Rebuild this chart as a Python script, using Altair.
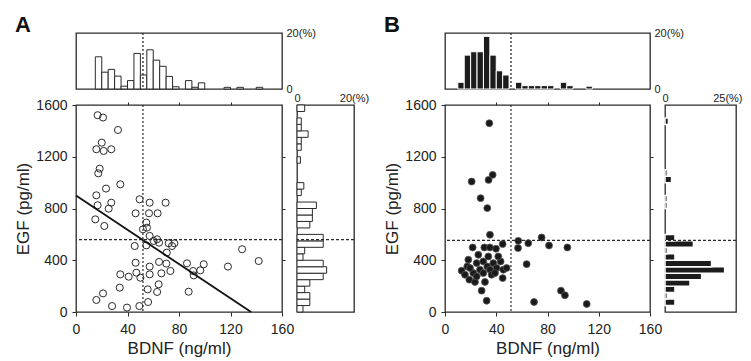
import altair as alt
import pandas as pd

FONT = "Liberation Sans"
INK = "#2a2a2a"

# ---------------- Panel A data ----------------
a_bdnf = [16.8, 21, 32.6, 20, 15.8, 21.5, 27.4, 18.4, 17.3, 34.4, 23.3, 15.8, 27.4, 16.8, 25.4,
          15, 22, 49.4, 57.2, 69.6, 46.3, 56.7, 63.4, 54.6, 55.1, 57.2, 63, 54.6, 45.6, 64.5,
          72, 76.4, 70.5, 64.5, 46.3, 70.2, 73.3, 46.9, 57.2, 57.2, 66.3, 34.4, 40.9, 50,
          86.2, 90.9, 91.4, 96.5, 99.2, 118, 129, 141.9, 87.5, 34, 21, 15.8, 28, 39.6, 49.2,
          56, 55.7, 63, 64.2, 60.3, 52, 74.6]
a_egf = [1521, 1503, 1407, 1309, 1258, 1245, 1258, 1108, 1072, 987, 954, 902, 845, 825, 799,
         716, 665, 871, 845, 845, 763, 763, 763, 691, 652, 588, 562, 515, 510, 536,
         531, 531, 459, 387, 381, 374, 317, 304, 351, 291, 299, 291, 273, 265,
         376, 317, 283, 322, 369, 351, 485, 394, 157, 188, 144, 93, 46, 34, 46,
         77, 175, 155, 214, 549, 639, 510]
a_fit_bdnf = [0, 136]
a_fit_egf = [900, 0]
a_thr_bdnf = 52
a_thr_egf = 560

a_top_start = [15, 20, 25, 30, 35, 40, 45, 50, 55, 60, 65, 70, 75, 85, 90, 95, 115, 125, 140]
a_top_pct = [11.5, 6, 7, 4.6, 1, 3, 12.7, 5, 14, 10.3, 8.1, 4.5, 0.8, 3, 0.6, 2.2, 0.6, 0.6, 0.6]

a_right_start = [0, 50, 100, 150, 200, 250, 300, 350, 400, 450, 500, 550, 650, 700, 750, 800,
                 900, 950, 1150, 1250, 1300, 1350, 1400, 1450, 1550]
a_right_pct = [2.1, 4.5, 4.5, 2.7, 4.5, 9.2, 10.4, 9.2, 2.1, 2.7, 9.2, 9.2, 4.5, 5.4, 5.4, 6.8,
               1.5, 2.4, 1.2, 1.5, 1.5, 3.9, 1.5, 1.5, 2.7]

# ---------------- Panel B data ----------------
b_bdnf = [34.6, 20.8, 37.2, 34, 27.8, 33, 35.1, 21.6, 30.7, 35, 39.8, 45, 57.2, 57, 65, 75.4,
          81.2, 95.5, 63.7, 18.2, 13, 17.4, 19, 23.4, 28.6, 31.2, 32.5, 45, 69.5, 90.5, 93.6,
          110.6, 24.7, 27.3, 29.9, 33, 35.1, 37.7, 40.3, 43.4, 45.5, 48.1, 36.4, 29.9, 22.1,
          26, 33.8, 39, 41.6, 19.5, 15.6, 24.7]
b_egf = [1459, 1008, 1060, 1021, 880, 803, 597, 499, 499, 499, 489, 525, 550, 494, 532, 576,
         514, 499, 370, 404, 319, 352, 250, 232, 165, 232, 87, 262, 77, 165, 129,
         62, 378, 327, 391, 352, 327, 378, 340, 391, 327, 340, 288, 301, 301,
         442, 429, 301, 429, 340, 288, 275]
b_thr_bdnf = 51.5
b_thr_egf = 553

b_top_start = [10, 15, 20, 25, 30, 35, 40, 45, 55, 60, 65, 70, 75, 80, 90, 95, 110]
b_top_pct = [2.4, 12.1, 13.3, 13.3, 18.8, 12.1, 6.5, 5, 2.4, 1.2, 1.2, 1.2, 1.2, 1.2, 2.4, 1.2, 1]

b_right_start = [50, 100, 150, 200, 250, 300, 350, 400, 450, 500, 550, 800, 850, 1000, 1050, 1450]
b_right_pct = [3.5, 0.8, 3.5, 8.8, 12.9, 21, 16.4, 3.5, 0.8, 10, 3.5, 0.8, 0.8, 2.3, 0.8, 1.2]

XS = [0, 160]
YS = [0, 1600]
X_TICKS = [0, 40, 80, 120, 160]
Y_TICKS = [0, 400, 800, 1200, 1600]


def blank(w, h):
    return (alt.Chart(pd.DataFrame({"v": [0]}))
            .mark_point(opacity=0, size=1)
            .encode(x=alt.X("v:Q", axis=None), y=alt.Y("v:Q", axis=None))
            .properties(width=w, height=h, view=alt.ViewBackground(strokeOpacity=0)))


def hist_top(starts, pct, w, h, top, thr, filled, letter, letter_x):
    df = pd.DataFrame({"start": starts, "pct": pct})
    xs = alt.Scale(domain=XS, nice=False, zero=False)
    base = alt.Chart(df).transform_calculate(end="datum.start + 5", zero="0")
    if filled:
        bar_mark = base.mark_rect(fill="#1c1c1c", stroke="white", strokeWidth=1)
    else:
        bar_mark = base.mark_rect(fill="white", stroke=INK, strokeWidth=1)
    bars = bar_mark.encode(
        x=alt.X("start:Q", scale=xs, axis=None),
        x2="end:Q",
        y=alt.Y("pct:Q", scale=alt.Scale(domain=[0, top], nice=False),
                axis=alt.Axis(orient="right", values=[0, top], ticks=False, domain=False,
                              grid=False, title=None, labelFontSize=11, labelPadding=4,
                              labelFlush=False, labelOverlap=False,
                              labelExpr="datum.value == 0 ? '0' : datum.value + '(%)'")),
        y2="zero:Q",
    )
    rule = (alt.Chart(pd.DataFrame({"t": [thr]}))
            .mark_rule(strokeDash=[2, 2], stroke=INK, strokeWidth=1.3)
            .encode(x=alt.X("t:Q", scale=xs, axis=None)))
    txt = (alt.Chart(pd.DataFrame({"t": [letter]}))
           .mark_text(font=FONT, fontSize=22, fontWeight="bold", align="left",
                      baseline="top", color="#111")
           .encode(x=alt.value(letter_x), y=alt.value(-18), text="t:N"))
    return alt.layer(bars, rule, txt).properties(width=w, height=h)


def hist_right(starts, pct, w, h, top, thr, filled, end_offset=0):
    df = pd.DataFrame({"start": starts, "pct": pct})
    ys = alt.Scale(domain=YS, nice=False)
    base = alt.Chart(df).transform_calculate(end="datum.start + 50", zero="0")
    if filled:
        bar_mark = base.mark_rect(fill="#1c1c1c", stroke="white", strokeWidth=1.5)
    else:
        bar_mark = base.mark_rect(fill="white", stroke=INK, strokeWidth=1)
    test = "datum.value == %d" % top
    if end_offset:
        align = alt.ConditionalAxisLabelAlign(condition={"test": test, "value": "right"},
                                              value="center")
        offset = alt.ConditionalAxisNumber(condition={"test": test, "value": end_offset},
                                           value=0)
    else:
        align = "center"
        offset = 0
    bars = bar_mark.encode(
        y=alt.Y("start:Q", scale=ys, axis=None),
        y2="end:Q",
        x=alt.X("zero:Q", scale=alt.Scale(domain=[0, top], nice=False),
                axis=alt.Axis(orient="top", values=[0, top], ticks=False, domain=False,
                              grid=False, title=None, labelFontSize=11, labelPadding=2,
                              labelFlush=False, labelOverlap=False, labelAlign=align,
                              labelOffset=offset,
                              labelExpr="datum.value == 0 ? '0' : datum.value + '(%)'")),
        x2="pct:Q",
    )
    rule = (alt.Chart(pd.DataFrame({"t": [thr]}))
            .mark_rule(strokeDash=[3, 2], stroke=INK, strokeWidth=1.2)
            .encode(y=alt.Y("t:Q", scale=ys, axis=None)))
    return alt.layer(bars, rule).properties(width=w, height=h)


def scatter(bdnf, egf, filled, thr_x, thr_y, w, h, fit=None):
    df = pd.DataFrame({"bdnf": bdnf, "egf": egf})
    xs = alt.Scale(domain=XS, nice=False)
    ys = alt.Scale(domain=YS, nice=False)
    xaxis = alt.Axis(values=X_TICKS, format="d", title="BDNF (ng/ml)",
                     grid=False, domain=False, tickSize=4, labelPadding=6, labelFontSize=14,
                     labelFlush=False, labelOverlap=False, titleFontSize=17,
                     titleFontWeight="normal", titlePadding=4)
    yaxis = alt.Axis(values=Y_TICKS, format="d", title="EGF (pg/ml)",
                     grid=False, domain=False, tickSize=4, labelPadding=5, labelFontSize=14,
                     labelFlush=False, labelOverlap=False, titleFontSize=17,
                     titleFontWeight="normal", titleX=-61, titleY=h / 2,
                     titleBaseline="top")
    if filled:
        pts = alt.Chart(df).mark_circle(size=48, fill="#1a1a1a", stroke="#555",
                                        strokeWidth=0.8, opacity=1)
    else:
        pts = alt.Chart(df).mark_point(shape="circle", size=50, filled=False,
                                       stroke=INK, strokeWidth=1, opacity=1)
    pts = pts.encode(x=alt.X("bdnf:Q", scale=xs, axis=xaxis),
                     y=alt.Y("egf:Q", scale=ys, axis=yaxis))
    # frame ticks on the top and right edges
    frame = (alt.Chart(pd.DataFrame({"bdnf": [0], "egf": [0]}))
             .mark_point(opacity=0, size=1)
             .encode(x=alt.X("bdnf:Q", scale=xs,
                             axis=alt.Axis(orient="top", values=X_TICKS[1:-1], labels=False,
                                           title=None, grid=False, domain=False, tickSize=3)),
                     y=alt.Y("egf:Q", scale=ys,
                             axis=alt.Axis(orient="right", values=Y_TICKS[1:-1], labels=False,
                                           title=None, grid=False, domain=False, tickSize=3))))
    vr = (alt.Chart(pd.DataFrame({"bdnf": [thr_x]}))
          .mark_rule(strokeDash=[2, 2], stroke=INK, strokeWidth=1.2)
          .encode(x=alt.X("bdnf:Q", scale=xs, axis=None)))
    hr = (alt.Chart(pd.DataFrame({"egf": [thr_y]}))
          .mark_rule(strokeDash=[3, 2], stroke=INK, strokeWidth=1.2)
          .encode(y=alt.Y("egf:Q", scale=ys, axis=None)))
    layers = [pts, vr, hr]
    if fit is not None:
        fdf = pd.DataFrame({"bdnf": fit[0], "egf": fit[1]})
        line = (alt.Chart(fdf).mark_line(stroke="#111", strokeWidth=1.8)
                .encode(x=alt.X("bdnf:Q", scale=xs, axis=None),
                        y=alt.Y("egf:Q", scale=ys, axis=None)))
        layers.append(line)
    layers.append(frame)
    return (alt.layer(*layers)
            .resolve_axis(x="independent", y="independent")
            .properties(width=w, height=h))


topA = hist_top(a_top_start, a_top_pct, 206, 56, 20, a_thr_bdnf, False, "A", -61)
topB = hist_top(b_top_start, b_top_pct, 205, 56, 20, b_thr_bdnf, True, "B", -61)
scatA = scatter(a_bdnf, a_egf, False, a_thr_bdnf, a_thr_egf, 206, 207,
                fit=(a_fit_bdnf, a_fit_egf))
scatB = scatter(b_bdnf, b_egf, True, b_thr_bdnf, b_thr_egf, 205, 207)
rightA = hist_right(a_right_start, a_right_pct, 57, 207, 20, a_thr_egf, False)
rightB = hist_right(b_right_start, b_right_pct, 71, 207, 25, b_thr_egf, True, end_offset=6)

chart = alt.concat(
    topA, blank(57, 56), blank(61, 56), topB, blank(71, 56),
    scatA, rightA, blank(61, 207), scatB, rightB,
    columns=5, spacing={"row": 16, "column": 15}, bounds="flush",
).properties(
    padding={"left": 5, "top": 5, "right": 0, "bottom": 0},
    background="white",
).configure(
    font=FONT,
).configure_view(
    stroke=INK, strokeWidth=1.3,
).configure_axis(
    labelFont=FONT, titleFont=FONT, labelColor="#222", titleColor="#222",
    tickColor=INK, domainColor=INK,
)

chart.save("out.html", embed_options={"renderer": "svg", "actions": False})
